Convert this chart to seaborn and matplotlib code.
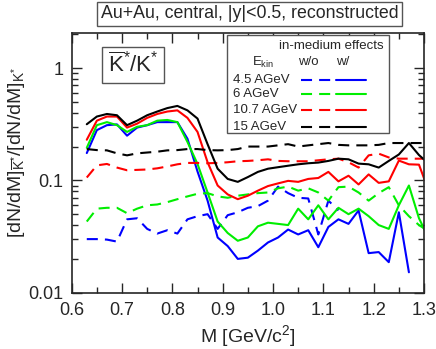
import numpy as np
import pandas as pd
import matplotlib
matplotlib.use('Agg')
import matplotlib.pyplot as plt
import seaborn as sns

# invariant mass bins (GeV/c^2)
mass = [0.63, 0.65, 0.67, 0.69, 0.71, 0.73, 0.75, 0.77, 0.79, 0.81, 0.83, 0.85,
        0.87, 0.89, 0.91, 0.93, 0.95, 0.97, 0.99, 1.01, 1.03, 1.05, 1.07, 1.09,
        1.11, 1.13, 1.15, 1.17, 1.19, 1.21, 1.23, 1.25, 1.27, 1.29, 1.31]
nan = np.nan

# ratio without in-medium effects (dashed)
wo_45 = [0.030, 0.030, 0.0297, 0.0285, 0.045, 0.046, 0.037, 0.0336, 0.036, 0.0336, 0.045, 0.048,
         0.050, 0.037, 0.049, 0.052, 0.057, 0.059, 0.066, 0.088, 0.077, 0.070, 0.069, 0.033,
         0.066, 0.054, nan, nan, nan, nan, nan, nan, nan, nan, nan]
wo_6 = [0.043, 0.056, 0.057, 0.057, 0.051, 0.056, 0.060, 0.061, 0.064, 0.068, 0.072, 0.076,
        0.077, 0.072, 0.070, 0.073, 0.075, 0.077, 0.078, 0.085, 0.088, 0.081, 0.085, 0.078,
        0.066, 0.087, 0.088, 0.078, 0.066, 0.077, 0.087, 0.060, 0.048, 0.040, 0.035]
wo_107 = [0.106, 0.136, 0.140, 0.130, 0.123, 0.124, 0.125, 0.128, 0.133, 0.139, 0.143, 0.143,
          0.142, 0.143, 0.145, 0.148, 0.149, 0.151, 0.154, 0.149, 0.148, 0.148, 0.148, 0.151,
          0.154, 0.156, 0.145, 0.130, 0.167, 0.173, 0.160, 0.156, 0.156, 0.156, 0.156]
wo_15 = [0.190, 0.186, 0.185, 0.174, 0.167, 0.174, 0.177, 0.180, 0.185, 0.186, 0.190, 0.190,
         0.186, 0.185, 0.186, 0.190, 0.200, 0.200, 0.200, 0.205, 0.210, 0.200, 0.205, 0.210,
         0.215, 0.207, 0.205, 0.205, 0.205, 0.207, 0.215, 0.215, 0.215, 0.215, 0.215]

# ratio with in-medium effects (solid)
w_45 = [0.175, 0.28, 0.31, 0.315, 0.25, 0.295, 0.31, 0.33, 0.33, 0.33, 0.235, 0.12,
        0.066, 0.031, 0.026, 0.020, 0.0205, 0.0237, 0.028, 0.031, 0.0365, 0.033, 0.036, 0.0254,
        0.0385, 0.045, 0.041, 0.054, 0.0225, 0.023, 0.0187, 0.052, 0.0152, nan, nan]
w_6 = [0.195, 0.31, 0.33, 0.31, 0.27, 0.30, 0.31, 0.34, 0.345, 0.33, 0.22, 0.14,
       0.078, 0.043, 0.034, 0.029, 0.031, 0.039, 0.042, 0.041, 0.040, 0.056, 0.045, 0.060,
       0.045, 0.057, 0.050, 0.056, 0.048, 0.040, 0.037, 0.060, 0.090, 0.046, 0.030]
w_107 = [0.23, 0.34, 0.37, 0.37, 0.295, 0.32, 0.36, 0.39, 0.41, 0.42, 0.36, 0.27,
         0.145, 0.090, 0.075, 0.068, 0.073, 0.081, 0.089, 0.094, 0.099, 0.097, 0.103, 0.105,
         0.119, 0.098, 0.110, 0.092, 0.113, 0.095, 0.098, 0.150, 0.139, 0.138, 0.079]
w_15 = [0.316, 0.37, 0.39, 0.38, 0.31, 0.34, 0.38, 0.41, 0.44, 0.46, 0.42, 0.355,
        0.21, 0.127, 0.103, 0.097, 0.107, 0.119, 0.127, 0.131, 0.135, 0.139, 0.142, 0.144,
        0.149, 0.156, 0.154, 0.141, 0.139, 0.130, 0.149, 0.170, 0.215, 0.168, 0.140]

energies = ['4.5 AGeV', '6 AGeV', '10.7 AGeV', '15 AGeV']
colors = ['#0000ff', '#00ee00', '#ff0000', '#000000']
series_wo = [wo_45, wo_6, wo_107, wo_15]
series_w = [w_45, w_6, w_107, w_15]

frames = []
for e, wo, w in zip(energies, series_wo, series_w):
    frames.append(pd.DataFrame({'M': mass, 'ratio': wo, 'E': e, 'medium': 'w/o'}))
    frames.append(pd.DataFrame({'M': mass, 'ratio': w, 'E': e, 'medium': 'w/'}))
df = pd.concat(frames).dropna()

sns.set_style('ticks')
plt.rcParams['font.family'] = ['Liberation Sans', 'DejaVu Sans']
plt.rcParams['mathtext.fontset'] = 'custom'
plt.rcParams['mathtext.rm'] = 'Liberation Sans'
plt.rcParams['mathtext.it'] = 'Liberation Sans:italic'
plt.rcParams['mathtext.bf'] = 'Liberation Sans:bold'

lw = 1.5
dash = (5.3, 3.4)
palette = dict(zip(energies, colors))

fig = plt.figure(figsize=(4.36, 3.49), dpi=100)
ax = fig.add_axes([0.1644, 0.1613, 0.8081, 0.7441])
sns.lineplot(data=df, x='M', y='ratio', hue='E', style='medium', palette=palette,
             dashes={'w/o': dash, 'w/': ''}, hue_order=energies, style_order=['w/o', 'w/'],
             estimator=None, sort=True, lw=lw, legend=False, ax=ax)

ax.set_yscale('log')
ax.set_xlim(0.6, 1.3)
ax.set_ylim(0.01, 2.05)
ax.set_xticks(np.arange(0.6, 1.31, 0.1))
ax.set_xticks(np.arange(0.65, 1.3, 0.1), minor=True)
ax.set_xticklabels(['0.6', '0.7', '0.8', '0.9', '1.0', '1.1', '1.2', '1.3'])
ax.set_yticks([0.01, 0.1, 1])
ax.set_yticklabels(['0.01', '0.1', '1'])
ax.tick_params(which='both', direction='in', top=True, right=True, labelsize=13, width=1)
ax.tick_params(which='major', length=7)
ax.tick_params(which='minor', length=4)
ax.tick_params(axis='x', which='major', pad=7)
ax.tick_params(axis='y', which='major', pad=6)
for s in ax.spines.values():
    s.set_linewidth(1.2)

ax.set_xlabel(r'M [GeV/c$^{2}$]', fontsize=14, labelpad=3)
ax.set_ylabel(r'$[\mathrm{dN/dM}]_{\overline{\mathrm{K}}^{*}}/[\mathrm{dN/dM}]_{\mathrm{K}^{*}}$',
              fontsize=14)
ax.yaxis.set_label_coords(-0.128, 0.54)

# title box
fig.text(0.573, 0.96, 'Au+Au, central, |y|<0.5, reconstructed', ha='center', va='center',
         fontsize=12.8, bbox=dict(boxstyle='square,pad=0.2', fc='white', ec='#555555', lw=1))

# ratio label box
ax.text(0.175, 0.876, r'$\overline{\mathrm{K}}^{*}/\mathrm{K}^{*}$', transform=ax.transAxes,
        ha='center', va='center', fontsize=16,
        bbox=dict(boxstyle='square,pad=0.25', fc='white', ec='#555555', lw=1))

# legend drawn by hand
tr = ax.transAxes
box = plt.Rectangle((0.44, 0.615), 0.4606, 0.377, transform=tr, fc='white', ec='#555555',
                    lw=1, zorder=5)
ax.add_patch(box)
fs = 9.5
ax.text(0.886, 0.951, 'in-medium effects', transform=tr, ha='right', va='center', fontsize=fs, zorder=6)
ax.text(0.543, 0.887, r'E$_{\mathrm{kin}}$', transform=tr, ha='center', va='center', fontsize=fs, zorder=6)
ax.text(0.672, 0.887, 'w/o', transform=tr, ha='center', va='center', fontsize=fs, zorder=6)
ax.text(0.769, 0.887, 'w/', transform=tr, ha='center', va='center', fontsize=fs, zorder=6)
rows = [0.819, 0.765, 0.7035, 0.639]
for e, c, yy in zip(energies, colors, rows):
    ax.text(0.459, yy, e, transform=tr, ha='left', va='center', fontsize=fs, zorder=6)
    ax.plot([0.65, 0.735], [yy, yy], transform=tr, color=c, lw=lw, dashes=dash, zorder=6)
    ax.plot([0.75, 0.834], [yy, yy], transform=tr, color=c, lw=lw, zorder=6)

fig.savefig('out.png', dpi=100)
